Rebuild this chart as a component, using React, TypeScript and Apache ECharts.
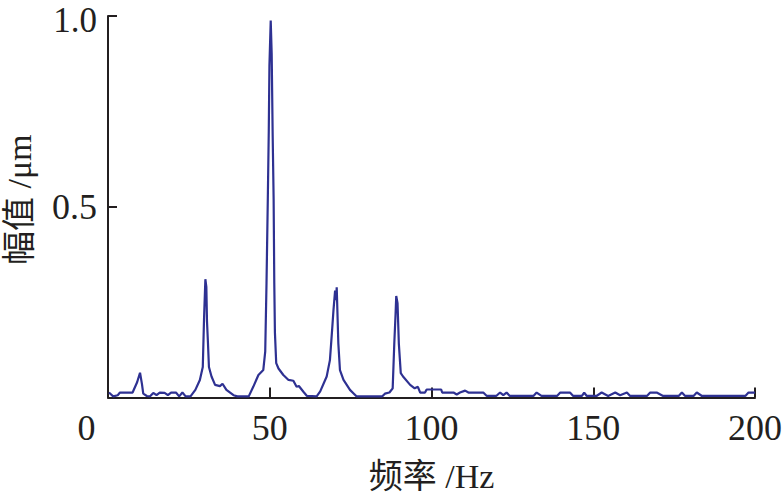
import React, { useEffect, useRef } from "react";
import * as echarts from "echarts";

// Frequency (Hz) and amplitude (μm)
const freqHz: number[] = [
  0.3, 1.6, 3.0, 3.7, 7.6, 9.0, 9.9, 10.5, 10.9, 12.0, 13.0, 14.0, 15.0, 16.0, 17.5, 18.5, 19.5, 21.0, 22.0, 23.0,
  24.0, 25.5, 27.0, 28.4, 29.3, 29.7, 30.1, 30.4, 30.6, 30.9, 31.2, 32.0, 33.1, 34.6, 35.4, 36.6, 38.8, 40.0, 43.5, 44.9,
  46.5, 48.0, 48.6, 49.0, 49.4, 49.7, 49.9, 50.3, 50.6, 50.9, 51.2, 51.4, 51.6, 52.0, 52.7, 54.2, 55.8, 57.3, 58.3, 59.0,
  60.4, 61.5, 64.5, 65.6, 67.6, 68.6, 69.3, 69.7, 70.2, 70.5, 70.7, 71.0, 71.2, 71.7, 72.8, 74.8, 76.0, 76.8, 84.8, 85.6,
  87.0, 88.0, 88.5, 88.9, 89.1, 89.5, 89.9, 90.5, 91.2, 93.4, 94.8, 95.8, 96.5, 98.0, 98.5, 103.0, 103.3, 106.8, 107.8, 108.8,
  110.4, 111.4, 116.0, 117.1, 120.0, 121.2, 122.2, 123.2, 124.2, 131.5, 132.5, 134.0, 138.8, 139.8, 142.8, 143.8, 146.5, 147.2, 148.0, 151.0,
  152.6, 154.6, 156.8, 158.3, 160.4, 161.4, 166.6, 167.6, 169.6, 171.6, 176.4, 177.4, 178.4, 181.0, 182.0, 183.6, 197.0, 198.0, 200.0,
];
const amplitude: number[] = [
  0.013, 0.003, 0.006, 0.013, 0.013, 0.04, 0.065, 0.035, 0.01, 0.004, 0.003, 0.012, 0.006, 0.013, 0.012, 0.006, 0.013, 0.013, 0.003, 0.013,
  0.003, 0.003, 0.02, 0.046, 0.08, 0.21, 0.31, 0.29, 0.2, 0.143, 0.08, 0.055, 0.033, 0.03, 0.036, 0.02, 0.006, 0.003, 0.003, 0.028,
  0.059, 0.072, 0.12, 0.3, 0.52, 0.7, 0.87, 0.988, 0.9, 0.69, 0.52, 0.3, 0.17, 0.09, 0.076, 0.059, 0.046, 0.044, 0.028, 0.03,
  0.015, 0.004, 0.003, 0.016, 0.055, 0.098, 0.18, 0.229, 0.28, 0.255, 0.289, 0.2, 0.142, 0.072, 0.046, 0.02, 0.01, 0.003, 0.003, 0.01,
  0.013, 0.024, 0.142, 0.22, 0.266, 0.247, 0.142, 0.064, 0.055, 0.033, 0.024, 0.028, 0.013, 0.013, 0.021, 0.021, 0.013, 0.013, 0.008, 0.013,
  0.018, 0.013, 0.013, 0.004, 0.004, 0.013, 0.006, 0.013, 0.004, 0.004, 0.013, 0.004, 0.004, 0.013, 0.013, 0.004, 0.004, 0.013, 0.004, 0.004,
  0.013, 0.004, 0.013, 0.006, 0.013, 0.004, 0.004, 0.013, 0.013, 0.004, 0.004, 0.013, 0.004, 0.004, 0.013, 0.004, 0.004, 0.013, 0.013,
];
const xTicks: number[] = [0, 50, 100, 150, 200];
const yTicks: number[] = [0, 0.5, 1.0];
const xName = "频率 /Hz";
const yName = "幅值 /μm";

const FONT = "'Liberation Serif', 'Times New Roman', 'Noto Sans CJK SC', serif";
const INK = "#231f20";

export default function App() {
  const ref = useRef<HTMLDivElement>(null);
  useEffect(() => {
    if (!ref.current) return;
    const chart = echarts.init(ref.current, undefined, { renderer: "svg" });
    const data = freqHz.map((f, i) => [f, amplitude[i]]);
    const yMax = yTicks[yTicks.length - 1];
    chart.setOption({
      animation: false,
      backgroundColor: "#ffffff",
      grid: { left: 108, right: 29, top: 16, bottom: 98.5, containLabel: false, outerBoundsMode: "none" },
      xAxis: {
        type: "value",
        min: xTicks[0],
        max: xTicks[xTicks.length - 1],
        interval: xTicks[1] - xTicks[0],
        name: xName,
        nameLocation: "middle",
        nameGap: 62,
        nameTextStyle: { fontFamily: FONT, fontSize: 34, color: INK },
        axisLine: { show: true, onZero: false, lineStyle: { color: INK, width: 2 } },
        axisTick: { show: true, inside: true, length: 10, lineStyle: { color: INK, width: 2 } },
        axisLabel: {
          margin: 12,
          fontFamily: FONT,
          fontSize: 36,
          color: INK,
          formatter: (v: number) => (v === 0 ? "{s|0}" : String(v)),
          rich: { s: { fontFamily: FONT, fontSize: 36, color: INK, padding: [0, 43, 0, 0] } },
        },
        splitLine: { show: false },
      },
      yAxis: {
        type: "value",
        min: yTicks[0],
        max: yMax,
        interval: yTicks[1] - yTicks[0],
        name: yName,
        nameLocation: "middle",
        nameGap: 72,
        nameTextStyle: { fontFamily: FONT, fontSize: 34, color: INK, padding: [0, 0, 0, 14] },
        axisLine: { show: true, onZero: false, lineStyle: { color: INK, width: 2 } },
        axisTick: { show: true, inside: true, length: 9, lineStyle: { color: INK, width: 2 } },
        axisLabel: {
          margin: 11,
          fontFamily: FONT,
          fontSize: 36,
          lineHeight: 28,
          color: INK,
          formatter: (v: number) =>
            v === 0 ? "" : v === yMax ? "{t|" + v.toFixed(1) + "}" : v.toFixed(1),
          rich: {
            t: { fontFamily: FONT, fontSize: 35, lineHeight: 28, color: INK, padding: [8, 0, 0, 0] },
          },
        },
        splitLine: { show: false },
      },
      series: [
        {
          type: "line",
          data,
          showSymbol: false,
          symbol: "none",
          lineStyle: { color: "#2e3192", width: 2.2 },
        },
      ],
    });
    return () => chart.dispose();
  }, []);
  return (
    <div
      ref={ref}
      style={{ position: "fixed", left: 0, top: 0, width: 784, height: 496, background: "#fff" }}
    />
  );
}
